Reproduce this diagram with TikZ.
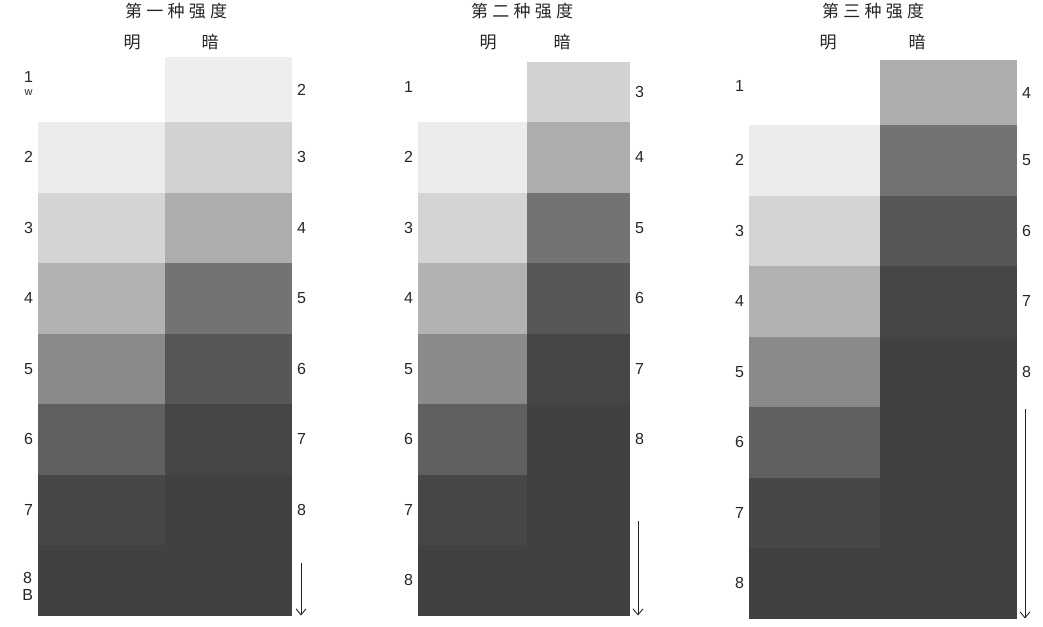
\documentclass[tikz,border=0pt]{standalone}
\usepackage{fontspec}
\setmainfont{Liberation Sans}
\newfontfamily\cjk[LetterSpace=25]{Noto Sans CJK SC}
\usetikzlibrary{positioning,arrows.meta}

\definecolor{ink}{HTML}{262626}
% light side
\definecolor{g2}{HTML}{ECECEC}
\definecolor{g3}{HTML}{D4D4D4}
\definecolor{g4}{HTML}{B2B2B2}
\definecolor{g5}{HTML}{8A8A8A}
\definecolor{g6}{HTML}{606060}
\definecolor{g7}{HTML}{474747}
\definecolor{g8}{HTML}{414141}
% dark side
\definecolor{d2}{HTML}{EEEEEE}
\definecolor{d3}{HTML}{D2D2D2}
\definecolor{d4}{HTML}{ADADAD}
\definecolor{d5}{HTML}{737373}
\definecolor{d6}{HTML}{575757}
\definecolor{d7}{HTML}{464646}
\definecolor{d8}{HTML}{414141}

\tikzset{
  cell/.style={inner sep=0pt, outer sep=0pt, minimum height=70.5pt},
  topcell/.style={cell, minimum height=65pt},
  num/.style={inner sep=0pt, outer sep=0pt, minimum height=70.5pt, align=center,
    text=ink, font=\fontsize{16}{16}\selectfont},
  head/.style={text=ink, font=\cjk\fontsize{17}{17}\selectfont},
  drop/.style={draw=ink, line width=0.9pt, -{Straight Barb[length=6pt,width=10pt]}},
}

\begin{document}
\begin{tikzpicture}[x=1pt, y=-1pt]
  \useasboundingbox (0,0) rectangle (1043,626);

  % first intensity
  \node[head] (t1) at (176,11) {第一种强度};
  \node[head] (h1l) at (132,42) {明};
  \node[head] (h1r) at (210,42) {暗};

  \begin{scope}[every node/.append style={minimum width=127pt}]
    \node[cell, fill=g2, anchor=north west] (p1l2) at (38,122) {};
    \node[cell, fill=g3, below=0pt of p1l2] (p1l3) {};
    \node[cell, fill=g4, below=0pt of p1l3] (p1l4) {};
    \node[cell, fill=g5, below=0pt of p1l4] (p1l5) {};
    \node[cell, fill=g6, below=0pt of p1l5] (p1l6) {};
    \node[cell, fill=g7, below=0pt of p1l6] (p1l7) {};
    \node[cell, fill=g8, below=0pt of p1l7] (p1l8) {};

    \node[cell, fill=d3, right=0pt of p1l2] (p1r3) {};
    \node[topcell, fill=d2, above=0pt of p1r3] (p1r2) {};
    \node[cell, fill=d4, right=0pt of p1l3] (p1r4) {};
    \node[cell, fill=d5, right=0pt of p1l4] (p1r5) {};
    \node[cell, fill=d6, right=0pt of p1l5] (p1r6) {};
    \node[cell, fill=d7, right=0pt of p1l6] (p1r7) {};
    \node[cell, fill=d8, right=0pt of p1l7] (p1r8) {};
    \node[cell, fill=d8, right=0pt of p1l8] (p1rx) {};
  \end{scope}

  \node[num, left=5pt of p1l2] (n1l2) {2};
  \node[num, above=0pt of n1l2, yshift=3pt] (n1l1) {1\\[-3pt]{\fontsize{11}{11}\selectfont w}};
  \node[num, left=5pt of p1l3] (n1l3) {3};
  \node[num, left=5pt of p1l4] (n1l4) {4};
  \node[num, left=5pt of p1l5] (n1l5) {5};
  \node[num, left=5pt of p1l6] (n1l6) {6};
  \node[num, left=5pt of p1l7] (n1l7) {7};
  \node[num, left=5pt of p1l8, yshift=-6pt] (n1l8) {8\\[1pt]B};
  \node[num, right=5pt of p1r2] (n1r2) {2};
  \node[num, right=5pt of p1r3] (n1r3) {3};
  \node[num, right=5pt of p1r4] (n1r4) {4};
  \node[num, right=5pt of p1r5] (n1r5) {5};
  \node[num, right=5pt of p1r6] (n1r6) {6};
  \node[num, right=5pt of p1r7] (n1r7) {7};
  \node[num, right=5pt of p1r8] (n1r8) {8};

  \coordinate (a1s) at ([xshift=9pt, yshift=-18pt]p1rx.north east);
  \coordinate (a1e) at ([xshift=9pt]p1rx.south east);
  \draw[drop] (a1s) -- (a1e);

  % second intensity
  \node[head] (t2) at (522,11) {第二种强度};
  \node[head] (h2l) at (488,42) {明};
  \node[head] (h2r) at (562,42) {暗};

  \begin{scope}[every node/.append style={minimum width=109pt}]
    \node[cell, fill=g2, anchor=north west] (p2l2) at (418,122) {};
    \node[cell, fill=g3, below=0pt of p2l2] (p2l3) {};
    \node[cell, fill=g4, below=0pt of p2l3] (p2l4) {};
    \node[cell, fill=g5, below=0pt of p2l4] (p2l5) {};
    \node[cell, fill=g6, below=0pt of p2l5] (p2l6) {};
    \node[cell, fill=g7, below=0pt of p2l6] (p2l7) {};
    \node[cell, fill=g8, below=0pt of p2l7] (p2l8) {};
  \end{scope}
  \begin{scope}[every node/.append style={minimum width=103pt}]
    \node[cell, fill=d4, right=0pt of p2l2] (p2r4) {};
    \node[topcell, fill=d3, minimum height=60pt, above=0pt of p2r4] (p2r3) {};
    \node[cell, fill=d5, right=0pt of p2l3] (p2r5) {};
    \node[cell, fill=d6, right=0pt of p2l4] (p2r6) {};
    \node[cell, fill=d7, right=0pt of p2l5] (p2r7) {};
    \node[cell, fill=d8, right=0pt of p2l6] (p2r8) {};
    \node[cell, fill=d8, minimum height=141pt, below=0pt of p2r8] (p2rx) {};
  \end{scope}

  \node[num, left=5pt of p2l2] (n2l2) {2};
  \node[num, above=0pt of n2l2] (n2l1) {1};
  \node[num, left=5pt of p2l3] (n2l3) {3};
  \node[num, left=5pt of p2l4] (n2l4) {4};
  \node[num, left=5pt of p2l5] (n2l5) {5};
  \node[num, left=5pt of p2l6] (n2l6) {6};
  \node[num, left=5pt of p2l7] (n2l7) {7};
  \node[num, left=5pt of p2l8] (n2l8) {8};
  \node[num, right=5pt of p2r3] (n2r3) {3};
  \node[num, right=5pt of p2r4] (n2r4) {4};
  \node[num, right=5pt of p2r5] (n2r5) {5};
  \node[num, right=5pt of p2r6] (n2r6) {6};
  \node[num, right=5pt of p2r7] (n2r7) {7};
  \node[num, right=5pt of p2r8] (n2r8) {8};

  \coordinate (a2s) at ([xshift=8pt, yshift=-46pt]p2rx.north east);
  \coordinate (a2e) at ([xshift=8pt]p2rx.south east);
  \draw[drop] (a2s) -- (a2e);

  % third intensity
  \node[head] (t3) at (873,11) {第三种强度};
  \node[head] (h3l) at (828,42) {明};
  \node[head] (h3r) at (917,42) {暗};

  \begin{scope}[every node/.append style={minimum width=131pt}]
    \node[cell, fill=g2, anchor=north west] (p3l2) at (749,125) {};
    \node[cell, fill=g3, below=0pt of p3l2] (p3l3) {};
    \node[cell, fill=g4, below=0pt of p3l3] (p3l4) {};
    \node[cell, fill=g5, below=0pt of p3l4] (p3l5) {};
    \node[cell, fill=g6, below=0pt of p3l5] (p3l6) {};
    \node[cell, fill=g7, below=0pt of p3l6] (p3l7) {};
    \node[cell, fill=g8, below=0pt of p3l7] (p3l8) {};
  \end{scope}
  \begin{scope}[every node/.append style={minimum width=137pt}]
    \node[cell, fill=d5, right=0pt of p3l2] (p3r5) {};
    \node[topcell, fill=d4, above=0pt of p3r5] (p3r4) {};
    \node[cell, fill=d6, right=0pt of p3l3] (p3r6) {};
    \node[cell, fill=d7, right=0pt of p3l4] (p3r7) {};
    \node[cell, fill=d8, right=0pt of p3l5] (p3r8) {};
    \node[cell, fill=d8, minimum height=211.5pt, below=0pt of p3r8] (p3rx) {};
  \end{scope}

  \node[num, left=5pt of p3l2] (n3l2) {2};
  \node[num, above=0pt of n3l2, yshift=4pt] (n3l1) {1};
  \node[num, left=5pt of p3l3] (n3l3) {3};
  \node[num, left=5pt of p3l4] (n3l4) {4};
  \node[num, left=5pt of p3l5] (n3l5) {5};
  \node[num, left=5pt of p3l6] (n3l6) {6};
  \node[num, left=5pt of p3l7] (n3l7) {7};
  \node[num, left=5pt of p3l8] (n3l8) {8};
  \node[num, right=5pt of p3r4] (n3r4) {4};
  \node[num, right=5pt of p3r5] (n3r5) {5};
  \node[num, right=5pt of p3r6] (n3r6) {6};
  \node[num, right=5pt of p3r7] (n3r7) {7};
  \node[num, right=5pt of p3r8] (n3r8) {8};

  \coordinate (a3s) at ([xshift=8pt, yshift=-2pt]p3rx.north east);
  \coordinate (a3e) at ([xshift=8pt]p3rx.south east);
  \draw[drop] (a3s) -- (a3e);
\end{tikzpicture}
\end{document}
